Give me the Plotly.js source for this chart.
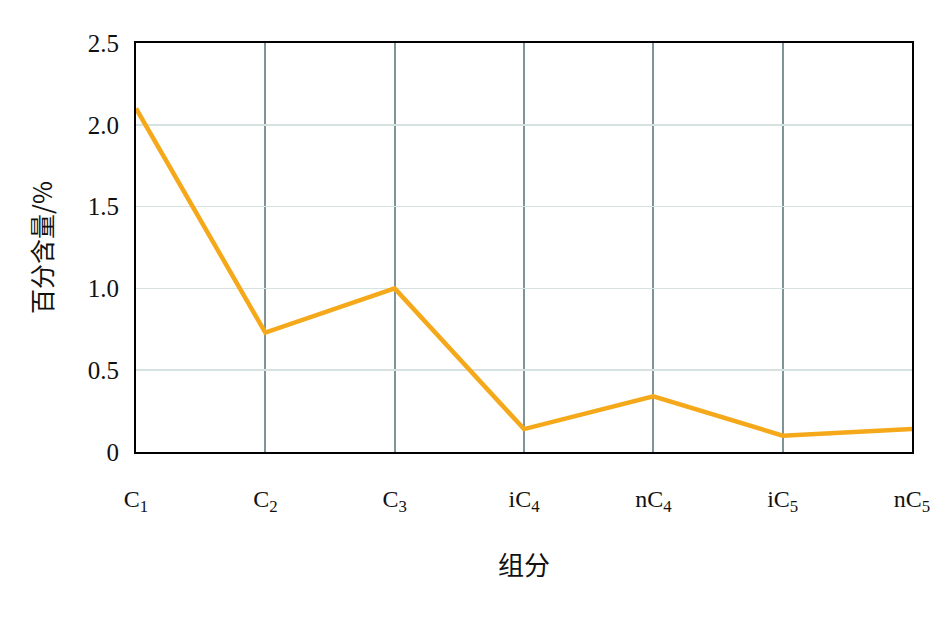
<!DOCTYPE html>
<html><head><meta charset="utf-8">
<script src="https://cdn.plot.ly/plotly-3.0.1.min.js"></script>
<style>body{margin:0;}#c{width:945px;height:626px;}</style>
</head><body><div id="c"></div>
<script>
const categories = ['C<sub>1</sub>','C<sub>2</sub>','C<sub>3</sub>','iC<sub>4</sub>','nC<sub>4</sub>','iC<sub>5</sub>','nC<sub>5</sub>'];
const values = [2.10, 0.73, 1.00, 0.14, 0.34, 0.10, 0.14];
const yTickVals = [0, 0.5, 1.0, 1.5, 2.0, 2.5];
const yTickText = ['0', '0.5', '1.0', '1.5', '2.0', '2.5'];
const xIdx = categories.map((_, i) => i);

const trace = {
  x: xIdx, y: values, type: 'scatter', mode: 'lines',
  line: {color: '#f5a91a', width: 4.5}, hoverinfo: 'skip'
};
const layout = {
  width: 945, height: 626,
  margin: {l: 136, r: 33, t: 43, b: 174},
  paper_bgcolor: '#fff', plot_bgcolor: '#fff',
  showlegend: false,
  font: {family: 'Liberation Serif, serif', color: '#111', size: 24},
  xaxis: {
    range: [0, 6], tickvals: xIdx, ticktext: categories,
    showgrid: true, gridcolor: '#7f9499', gridwidth: 2,
    showline: true, linecolor: '#000', linewidth: 2, mirror: true,
    ticks: '', ticklabelstandoff: 24, zeroline: false,
    tickfont: {family: 'Liberation Serif, serif', size: 24, color: '#111'},
    title: {text: '组分', font: {family: 'Noto Sans CJK SC', size: 26, color: '#111'}, standoff: 42}
  },
  yaxis: {
    range: [0, 2.5], tickvals: yTickVals, ticktext: yTickText,
    showgrid: true, gridcolor: '#d6e1e1', gridwidth: 1.5,
    showline: true, linecolor: '#000', linewidth: 2, mirror: true,
    ticks: '', ticklabelstandoff: 10, zeroline: false,
    tickfont: {family: 'Liberation Serif, serif', size: 25, color: '#111'},
    title: {text: '百分含量/%', font: {family: 'Noto Sans CJK SC', size: 25, color: '#111'}, standoff: 28}
  }
};
Plotly.newPlot('c', [trace], layout, {displayModeBar: false, staticPlot: true});
</script></body></html>
